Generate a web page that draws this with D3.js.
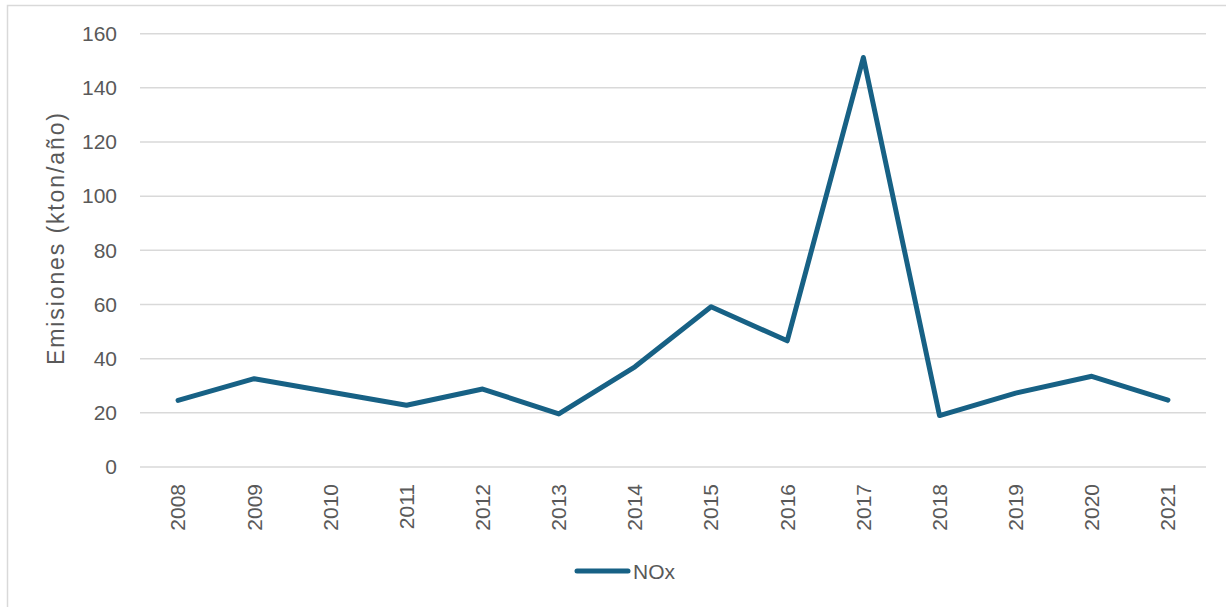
<!DOCTYPE html>
<html>
<head>
<meta charset="utf-8">
<script src="https://cdn.jsdelivr.net/npm/d3@7"></script>
<style>
  html, body { margin: 0; padding: 0; background: #fff; }
  svg { display: block; }
  text { font-family: "Liberation Sans", Arial, sans-serif; fill: #595959; }
</style>
</head>
<body>
<svg id="chart" width="1226" height="607"></svg>
<script>
// NOx emissions per year
const years = ["2008","2009","2010","2011","2012","2013","2014","2015","2016","2017","2018","2019","2020","2021"];
const noxValues = [24.6, 32.6, 27.7, 22.8, 28.8, 19.6, 37.0, 59.2, 46.6, 151.2, 19.0, 27.3, 33.5, 24.7];
const yTicks = [0, 20, 40, 60, 80, 100, 120, 140, 160];
const seriesName = "NOx";
const yTitle = "Emisiones (kton/año)";

const svg = d3.select("#chart");
const lineColor = "#176185";
const fontStack = "Liberation Sans, Arial, sans-serif";

// outer chart frame
svg.append("rect")
  .attr("x", 7.5).attr("y", 5.5)
  .attr("width", 1240).attr("height", 620)
  .attr("fill", "none").attr("stroke", "#d9d9d9").attr("stroke-width", 1.5);

const x = d3.scaleBand().domain(years).range([140, 1206]);
const y = d3.scaleLinear().domain([0, 160]).range([467, 33.7]);

// horizontal gridlines
svg.append("g")
  .selectAll("line")
  .data(yTicks)
  .join("line")
  .attr("x1", 140).attr("x2", 1206)
  .attr("y1", d => y(d)).attr("y2", d => y(d))
  .attr("stroke", "#d9d9d9").attr("stroke-width", 1.5);

// y axis labels
const yAxis = d3.axisLeft(y).tickValues(yTicks).tickSize(0).tickPadding(0);
const gy = svg.append("g").attr("transform", "translate(117,0)").call(yAxis);
gy.select(".domain").remove();
gy.selectAll("text")
  .attr("font-size", 21)
  .attr("fill", "#595959")
  .style("font-family", fontStack);

// x axis labels (rotated)
const xAxis = d3.axisBottom(x).tickSize(0).tickPadding(0);
const gx = svg.append("g").attr("transform", "translate(0,484)").call(xAxis);
gx.select(".domain").remove();
gx.selectAll("text")
  .attr("font-size", 21)
  .attr("fill", "#595959")
  .style("font-family", fontStack)
  .attr("text-anchor", "end")
  .attr("transform", "rotate(-90)")
  .attr("x", 0).attr("y", 0)
  .attr("dy", "0.35em");

// y axis title
svg.append("text")
  .attr("transform", "translate(64,239) rotate(-90)")
  .attr("text-anchor", "middle")
  .attr("font-size", 23)
  .attr("textLength", 252)
  .attr("lengthAdjust", "spacing")
  .text(yTitle);

// series line
const line = d3.line()
  .x((d, i) => x(years[i]) + x.bandwidth() / 2)
  .y(d => y(d));

svg.append("path")
  .datum(noxValues)
  .attr("d", line)
  .attr("fill", "none")
  .attr("stroke", lineColor)
  .attr("stroke-width", 5)
  .attr("stroke-linejoin", "round")
  .attr("stroke-linecap", "round");

// legend
const lg = svg.append("g");
lg.append("line")
  .attr("x1", 577).attr("x2", 628)
  .attr("y1", 571).attr("y2", 571)
  .attr("stroke", lineColor).attr("stroke-width", 5)
  .attr("stroke-linecap", "round");
lg.append("text")
  .attr("x", 633).attr("y", 578.5)
  .attr("font-size", 21)
  .text(seriesName);
</script>
</body>
</html>
